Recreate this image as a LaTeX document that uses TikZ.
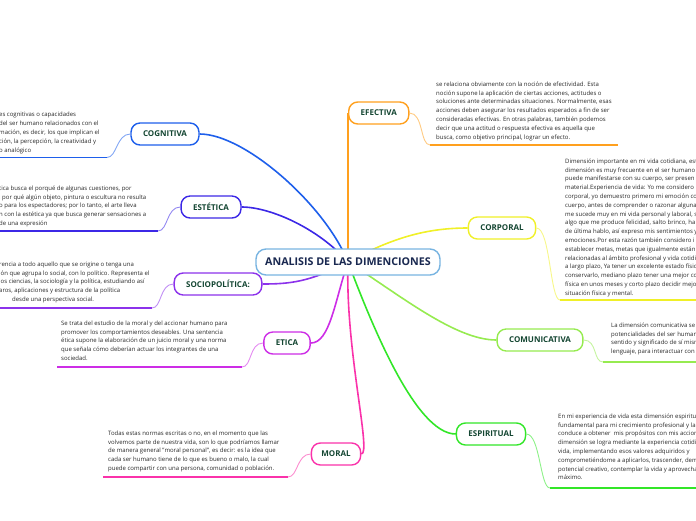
\documentclass[tikz,border=0pt]{standalone}
\usepackage{fontspec}
\setmainfont{Open Sans}
\usepackage{tikz}
\usetikzlibrary{positioning,calc,backgrounds}

\definecolor{rootblue}{RGB}{120,180,225}
\definecolor{titlenavy}{RGB}{25,40,80}
\definecolor{labelgreen}{RGB}{20,70,50}
\definecolor{notegray}{RGB}{40,40,40}
\definecolor{cogblue}{RGB}{30,95,235}
\definecolor{estblue}{RGB}{60,40,230}
\definecolor{socpurple}{RGB}{140,50,235}
\definecolor{etimag}{RGB}{205,45,230}
\definecolor{morpink}{RGB}{250,50,170}
\definecolor{efeorange}{RGB}{255,160,30}
\definecolor{coryellow}{RGB}{240,240,40}
\definecolor{comgreen}{RGB}{150,235,80}
\definecolor{espgreen}{RGB}{50,230,40}

\newcommand{\notesize}{\fontsize{6}{8.8}\selectfont}
\newcommand{\labelsize}{\fontsize{8}{9}\selectfont\bfseries}

\tikzset{
  branch/.style={draw=#1, line width=1.4pt, rounded corners=9pt, fill=white,
    font=\labelsize, text=labelgreen, minimum height=22pt, inner xsep=12pt, inner ysep=0pt},
  note/.style={align=left, font=\notesize, text=notegray, inner sep=0pt, anchor=north west,
    execute at begin node=\strut},
  link/.style={draw=#1, line width=1.6pt},
  tail/.style={draw=#1!55, line width=0.9pt},
  rule/.style={draw=#1, line width=1.6pt},
}

\begin{document}
\begin{tikzpicture}[x=1pt,y=-1pt]
\useasboundingbox (0,0) rectangle (696,520);
%% central idea
\node[draw=rootblue, line width=1.4pt, rounded corners=10pt, fill=white, minimum width=184pt,
  minimum height=26pt, font=\fontsize{10.7}{12}\selectfont\bfseries, text=titlenavy]
  (root) at (348,262) {ANALISIS DE LAS DIMENCIONES};

%% left branches
\node[branch=cogblue] (cog) at (165,134) {COGNITIVA};
\node[branch=estblue] (est) at (211,207) {ESTÉTICA};
\node[branch=socpurple] (soc) at (218,284) {SOCIOPOLÍTICA:};
\node[branch=etimag] (eti) at (287,343) {ETICA};
\node[branch=morpink, inner xsep=10pt] (mor) at (336,454) {MORAL};
%% right branches
\node[branch=efeorange, anchor=west] (efe) at (348,113) {EFECTIVA};
\node[branch=coryellow] (cor) at (502,228) {CORPORAL};
\node[branch=comgreen] (com) at (540,340) {COMUNICATIVA};
\node[branch=espgreen] (esp) at (491,434) {ESPIRITUAL};

%% notes
\node[note] (cogtext) at (-1,112.2) {es cognitivas o capacidades\\
  del ser humano relacionados con el\\
  mación, es decir, los que implican el\\
  ción, la percepción, la creatividad y\\
  o analógico};
\node[note] (esttext) at (-1,185.5) {tica busca el porqué de algunas cuestiones, por\\
  , por qué algún objeto, pintura o escultura no resulta\\
  o para los espectadores; por lo tanto, el arte lleva\\
  n con la estética ya que busca generar sensaciones a\\
  de una expresión};
\node[note] (soctext) at (-1,261.5) {rencia a todo aquello que se origine o tenga una\\
  ión que agrupa lo social, con lo político. Representa el\\
  los ciencias, la sociología y la política, estudiando así\\
  aros, aplicaciones y estructura de la política\\
  \hspace*{13pt}desde una perspectiva social.};
\node[note] (etitext) at (61,320.5) {Se trata del estudio de la moral y del accionar humano para\\
  promover los comportamientos deseables. Una sentencia\\
  ética supone la elaboración de un juicio moral y una norma\\
  que señala cómo deberían actuar los integrantes de una\\
  sociedad.};
\node[note] (mortext) at (108,430.5) {Todas estas normas escritas o no, en el momento que las\\
  volvemos parte de nuestra vida, son lo que podríamos llamar\\
  de manera general "moral personal", es decir: es la idea que\\
  cada ser humano tiene de lo que es bueno o malo, la cual\\
  puede compartir con una persona, comunidad o población.};
\node[note] (efetext) at (436,81.5) {se relaciona obviamente con la noción de efectividad. Esta\\
  noción supone la aplicación de ciertas acciones, actitudes o\\
  soluciones ante determinadas situaciones. Normalmente, esas\\
  acciones deben asegurar los resultados esperados a fin de ser\\
  consideradas efectivas. En otras palabras, también podemos\\
  decir que una actitud o respuesta efectiva es aquella que\\
  busca, como objetivo principal, lograr un efecto.};
\node[note] (cortext) at (565,158.5) {Dimensión importante en mi vida cotidiana, est\\
  dimensión es muy frecuente en el ser humano\\
  puede manifestarse con su cuerpo, ser presen\\
  material.Experiencia de vida: Yo me considero\\
  corporal, yo demuestro primero mi emoción co\\
  cuerpo, antes de comprender o razonar alguna\\
  me sucede muy en mi vida personal y laboral, s\\
  algo que me produce felicidad, salto brinco, ha\\
  de última hablo, así expreso mis sentimientos y\\
  emociones.Por esta razón también considero i\\
  establecer metas, metas que igualmente están\\
  relacionadas al ámbito profesional y vida cotidi\\
  a largo plazo, Ya tener un excelente estado físic\\
  conservarlo, mediano plazo tener una mejor co\\
  física en unos meses y corto plazo decidir mejo\\
  situación física y mental.};
\node[note] (comtext) at (611,322.5) {La dimensión comunicativa se\\
  potencialidades del ser human\\
  sentido y significado de sí mism\\
  lenguaje, para interactuar con};
\node[note] (esptext) at (558,413.5) {En mi experiencia de vida esta dimensión espiritu\\
  fundamental para mi crecimiento profesional y la\\
  conduce a obtener\ \ mis propósitos con mis accion\\
  dimensión se logra mediante la experiencia cotidi\\
  vida, implementando esos valores adquiridos y\\
  comprometiéndome a aplicarlos, trascender, dem\\
  potencial creativo, contemplar la vida y aprovecha\\
  máximo.};

%% underline ends
\coordinate (cogA) at (0,157.5);   \coordinate (cogB) at (107,157.5);
\coordinate (estA) at (0,231);     \coordinate (estB) at (158,231);
\coordinate (socA) at (0,308);     \coordinate (socB) at (152,308);
\coordinate (etiA) at (57,367);    \coordinate (etiB) at (242,367);
\coordinate (morA) at (103,477);   \coordinate (morB) at (288,477);
\coordinate (efeA) at (430,145);   \coordinate (efeB) at (618,145);
\coordinate (corA) at (560,300);   \coordinate (corB) at (696,300);
\coordinate (comA) at (603,362);   \coordinate (comB) at (696,362);
\coordinate (espA) at (550,488);   \coordinate (espB) at (696,488);

\begin{scope}[on background layer]
%% central idea to branches
\draw[link=cogblue] (root.center) .. controls (325,205) and (245,134) .. (cog.east);
\draw[link=estblue] (root.center) .. controls (318,228) and (270,207) .. (est.east);
\draw[link=socpurple] (root.center) .. controls (310,282) and (290,284) .. (soc.east);
\draw[link=etimag] (root.center) .. controls (335,300) and (330,343) .. (eti.east);
\draw[link=morpink] (root.center) .. controls (345,350) and (372,454) .. (mor.east);
\draw[link=efeorange] (root.center) -- (efe.west);
\draw[link=coryellow] (root.center) .. controls (395,236) and (430,228) .. (cor.west);
\draw[link=comgreen] (root.center) .. controls (400,295) and (455,340) .. (com.west);
\draw[link=espgreen] (root.center) .. controls (370,320) and (415,434) .. (esp.west);
\end{scope}

%% branches to notes
\foreach \n/\c in {cog/cogblue,est/estblue,soc/socpurple,eti/etimag,mor/morpink} {
  \draw[tail=\c] (\n.west) .. controls +(-14,0) and +(10,0) .. (\n B);
  \draw[rule=\c] (\n A) -- (\n B);
}
\foreach \n/\c in {efe/efeorange,cor/coryellow,com/comgreen,esp/espgreen} {
  \draw[tail=\c] (\n.east) .. controls +(14,0) and +(-10,0) .. (\n A);
  \draw[rule=\c] (\n A) -- (\n B);
}
\end{tikzpicture}
\end{document}
